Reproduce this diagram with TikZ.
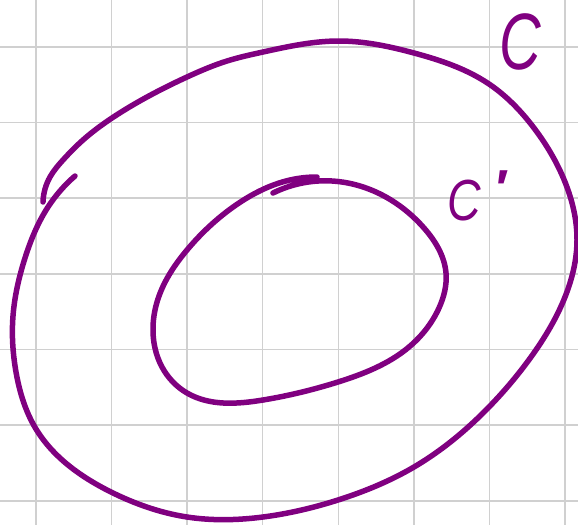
\documentclass[tikz,border=0pt]{standalone}
\usepackage{fontspec}
\usetikzlibrary{hobby}
\newfontfamily\hand{Liberation Sans}
\definecolor{curvec}{RGB}{128,0,128}
\definecolor{gridc}{RGB}{208,208,208}
\begin{document}
\begin{tikzpicture}[x=1pt,y=-1pt,
  curvestyle/.style={draw=curvec, line width=5.5pt, line cap=round, line join=round},
  gridline/.style={draw=gridc, line width=1.6pt},
  lbl/.style={text=curvec, inner sep=0pt}]
\useasboundingbox (0,0) rectangle (578,525);
\fill[white] (0,0) rectangle (578,525);
\foreach \i in {0,...,7} \draw[gridline] ({35.8+75.63*\i},0) -- ++(0,525);
\foreach \j in {0,...,6} \draw[gridline] (0,{47+75.63*\j}) -- ++(578,0);
% outer curve C
\draw[curvestyle, use Hobby shortcut] (43,202) .. (50,177) .. (63,160) .. (83,140) .. (112,118) .. (147,97)
  .. (187,77) .. (227,61) .. (263,52) .. (338,41)
  .. (414,53) .. (489,84) .. (534,128) .. (565,182) .. (577,240) .. (565,297) .. (531,357) .. (489,407)
  .. (414,467) .. (338,500) .. (263,517) .. (187,517) .. (111,492) .. (36,429) .. (16,372)
  .. (13,316) .. (25,258) .. (48,207) .. (75,176);
% inner curve C'
\draw[curvestyle, use Hobby shortcut] (273,193) .. (332,181) .. (391,200) .. (424,228) .. (446,273) .. (439,308)
  .. (409,347) .. (338,382) .. (263,400) .. (187,393) .. (162,367) .. (153,327) .. (159,296)
  .. (187,250) .. (236,205) .. (290,180) .. (317,177);
\node[lbl, font=\hand\itshape\fontsize{80}{80}\selectfont] (labC) at (520,42) {\scalebox{0.72}[1]{C}};
\node[lbl, font=\hand\itshape\fontsize{58}{58}\selectfont] (labCp) at (464,201) {\scalebox{0.8}[1]{C}};
\node[lbl, font=\hand\bfseries\fontsize{52}{52}\selectfont] (labP) at (503,189) {\char"2032};
\end{tikzpicture}
\end{document}
